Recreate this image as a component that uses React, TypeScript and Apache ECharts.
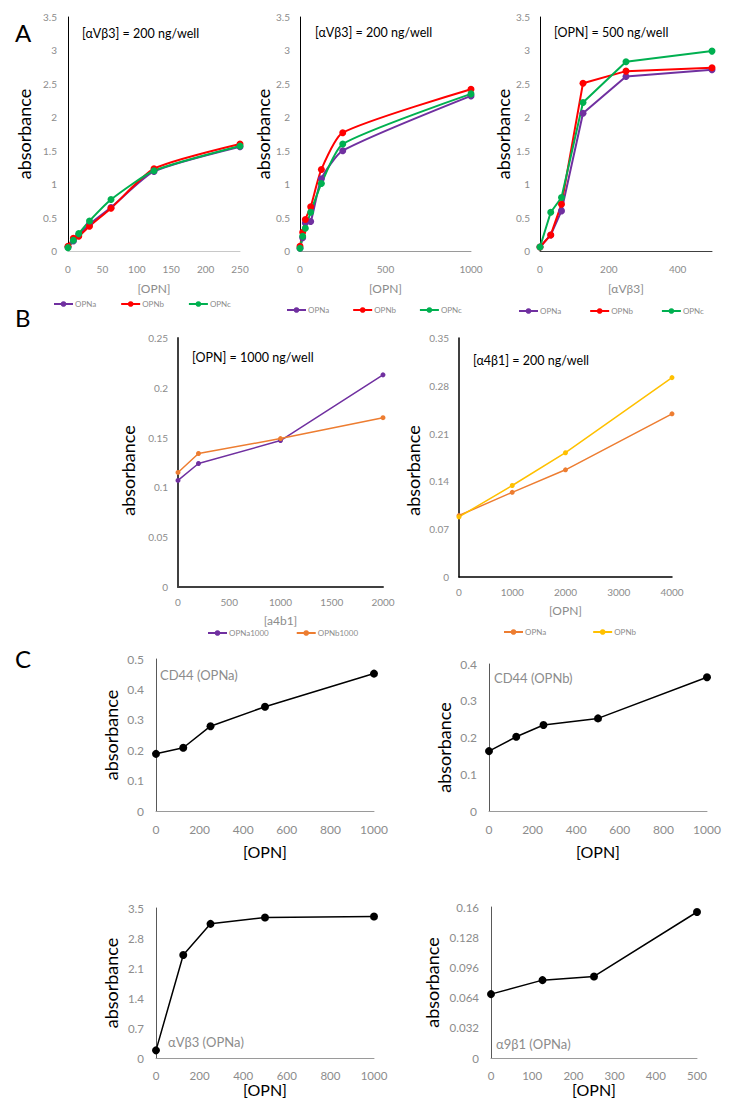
import React, { useEffect, useRef } from "react";
import * as echarts from "echarts";

// ---------- DATA ----------
const A1_X = [0, 7.8, 15.6, 31.25, 62.5, 125, 250];
const A1_OPNa = [0.06, 0.15, 0.24, 0.4, 0.65, 1.19, 1.56];
const A1_OPNb = [0.07, 0.19, 0.22, 0.37, 0.64, 1.23, 1.6];
const A1_OPNc = [0.05, 0.16, 0.26, 0.45, 0.77, 1.2, 1.57];

const A2_X = [0, 15.6, 31.25, 62.5, 125, 250, 1000];
const A2_OPNa = [0.04, 0.2, 0.42, 0.44, 1.08, 1.5, 2.32];
const A2_OPNb = [0.07, 0.28, 0.47, 0.66, 1.22, 1.77, 2.42];
const A2_OPNc = [0.04, 0.22, 0.34, 0.58, 1.01, 1.6, 2.35];

const A3_X = [0, 31.25, 62.5, 125, 250, 500];
const A3_OPNa = [0.06, 0.24, 0.6, 2.06, 2.61, 2.71];
const A3_OPNb = [0.06, 0.24, 0.7, 2.51, 2.69, 2.74];
const A3_OPNc = [0.06, 0.58, 0.8, 2.22, 2.83, 2.99];

const B1_X = [0, 200, 1000, 2000];
const B1_OPNa1000 = [0.107, 0.124, 0.147, 0.213];
const B1_OPNb1000 = [0.115, 0.134, 0.149, 0.17];

const B2_X = [0, 1000, 2000, 4000];
const B2_OPNa = [0.09, 0.124, 0.157, 0.239];
const B2_OPNb = [0.088, 0.134, 0.182, 0.292];

const C_X = [0, 125, 250, 500, 1000];
const C1_CD44_OPNa = [0.188, 0.208, 0.279, 0.343, 0.452];
const C2_CD44_OPNb = [0.163, 0.202, 0.234, 0.252, 0.364];
const C3_AVB3_OPNa = [0.178, 2.405, 3.13, 3.28, 3.3];
const C4_X = [0, 125, 250, 500];
const C4_A9B1_OPNa = [0.0677, 0.0825, 0.0864, 0.1547];

// ---------- STYLE ----------
const FONT = "Lato, 'Noto Sans', sans-serif";
const GRAY = "#8c8c8c";
const PURPLE = "#7030A0";
const RED = "#FF0000";
const GREEN = "#00B050";
const ORANGE = "#ED7D31";
const YELLOW = "#FFC000";

const pairs = (xs: number[], ys: number[]) => xs.map((x, i) => [x, ys[i]]);

type S = { name: string; x: number[]; y: number[]; color: string };
type Panel = {
  id: string;
  grid: [number, number, number, number];
  xMax: number;
  xInt: number;
  yMax: number;
  yInt: number;
  xName: string;
  xNameGap: number;
  xNameSize: number;
  xNameColor: string;
  yNameGap: number;
  yNamePad?: number[];
  labelSize: number;
  xLabelMargin: number;
  yLabelMargin: number;
  yLine: string;
  xLine: string;
  axisW: number;
  smooth: boolean;
  symbolSize: number;
  lineWidth: number;
  hideMaxX?: boolean;
  series: S[];
  legend?: { left: number; top: number; gap: number };
};

const panels: Panel[] = [
  {
    id: "A1", grid: [68, 17, 172, 234], xMax: 250, xInt: 50, yMax: 3.5, yInt: 0.5,
    xName: "[OPN]", xNameGap: 31, xNameSize: 12, xNameColor: GRAY, yNameGap: 35,
    labelSize: 10, xLabelMargin: 13, yLabelMargin: 11, yLine: "#000", xLine: "#c8c8c8", axisW: 1,
    smooth: true, symbolSize: 7, lineWidth: 2,
    series: [
      { name: "OPNa", x: A1_X, y: A1_OPNa, color: PURPLE },
      { name: "OPNb", x: A1_X, y: A1_OPNb, color: RED },
      { name: "OPNc", x: A1_X, y: A1_OPNc, color: GREEN },
    ],
    legend: { left: 53, top: 300, gap: 24 },
  },
  {
    id: "A2", grid: [300, 17, 171, 234], xMax: 1000, xInt: 500, yMax: 3.5, yInt: 0.5,
    xName: "[OPN]", xNameGap: 31, xNameSize: 12, xNameColor: GRAY, yNameGap: 28,
    labelSize: 10, xLabelMargin: 13, yLabelMargin: 10, yLine: "#000", xLine: "#9a9a9a", axisW: 1,
    smooth: true, symbolSize: 7, lineWidth: 2,
    series: [
      { name: "OPNa", x: A2_X, y: A2_OPNa, color: PURPLE },
      { name: "OPNb", x: A2_X, y: A2_OPNb, color: RED },
      { name: "OPNc", x: A2_X, y: A2_OPNc, color: GREEN },
    ],
    legend: { left: 286, top: 306, gap: 23 },
  },
  {
    id: "A3", grid: [540, 17, 172, 234], xMax: 500, xInt: 200, yMax: 3.5, yInt: 0.5,
    xName: "[αVβ3]", xNameGap: 31, xNameSize: 12, xNameColor: GRAY, yNameGap: 28,
    labelSize: 10, xLabelMargin: 13, yLabelMargin: 10, yLine: "#000", xLine: "#404040", axisW: 1,
    smooth: false, symbolSize: 7, lineWidth: 2, hideMaxX: true,
    series: [
      { name: "OPNa", x: A3_X, y: A3_OPNa, color: PURPLE },
      { name: "OPNb", x: A3_X, y: A3_OPNb, color: RED },
      { name: "OPNc", x: A3_X, y: A3_OPNc, color: GREEN },
    ],
    legend: { left: 518, top: 307, gap: 28 },
  },
  {
    id: "B1", grid: [178, 338, 205, 249], xMax: 2000, xInt: 500, yMax: 0.25, yInt: 0.05,
    xName: "[a4b1]", xNameGap: 27, xNameSize: 12, xNameColor: GRAY, yNameGap: 41, yNamePad: [0, 16, 0, 0],
    labelSize: 10, xLabelMargin: 10, yLabelMargin: 10, yLine: "#404040", xLine: "#404040", axisW: 2,
    smooth: false, symbolSize: 5, lineWidth: 1.5,
    series: [
      { name: "OPNa1000", x: B1_X, y: B1_OPNa1000, color: PURPLE },
      { name: "OPNb1000", x: B1_X, y: B1_OPNb1000, color: ORANGE },
    ],
    legend: { left: 207, top: 629, gap: 27 },
  },
  {
    id: "B2", grid: [459, 338, 213, 239], xMax: 4000, xInt: 1000, yMax: 0.35, yInt: 0.07,
    xName: "[OPN]", xNameGap: 27, xNameSize: 12, xNameColor: GRAY, yNameGap: 37, yNamePad: [0, 26, 0, 0],
    labelSize: 10, xLabelMargin: 10, yLabelMargin: 10, yLine: "#000", xLine: "#000", axisW: 1.5,
    smooth: false, symbolSize: 5, lineWidth: 1.5,
    series: [
      { name: "OPNa", x: B2_X, y: B2_OPNa, color: ORANGE },
      { name: "OPNb", x: B2_X, y: B2_OPNb, color: YELLOW },
    ],
    legend: { left: 503, top: 628, gap: 46 },
  },
  {
    id: "C1", grid: [156, 659, 218, 152], xMax: 1000, xInt: 200, yMax: 0.5, yInt: 0.1,
    xName: "[OPN]", xNameGap: 32, xNameSize: 16, xNameColor: "#000", yNameGap: 36,
    labelSize: 12, xLabelMargin: 12, yLabelMargin: 12, yLine: "#595959", xLine: "#9a9a9a", axisW: 1,
    smooth: false, symbolSize: 8, lineWidth: 1.5,
    series: [{ name: "CD44 (OPNa)", x: C_X, y: C1_CD44_OPNa, color: "#000" }],
  },
  {
    id: "C2", grid: [489, 664, 218, 147], xMax: 1000, xInt: 200, yMax: 0.4, yInt: 0.1,
    xName: "[OPN]", xNameGap: 32, xNameSize: 16, xNameColor: "#000", yNameGap: 36, yNamePad: [0, 20, 0, 0],
    labelSize: 12, xLabelMargin: 12, yLabelMargin: 12, yLine: "#595959", xLine: "#9a9a9a", axisW: 1,
    smooth: false, symbolSize: 8, lineWidth: 1.5,
    series: [{ name: "CD44 (OPNb)", x: C_X, y: C2_CD44_OPNb, color: "#000" }],
  },
  {
    id: "C3", grid: [156, 908, 218, 150], xMax: 1000, xInt: 200, yMax: 3.5, yInt: 0.7,
    xName: "[OPN]", xNameGap: 20, xNameSize: 16, xNameColor: "#000", yNameGap: 36,
    labelSize: 11.5, xLabelMargin: 11, yLabelMargin: 12, yLine: "#595959", xLine: "#9a9a9a", axisW: 1,
    smooth: false, symbolSize: 8, lineWidth: 1.5,
    series: [{ name: "αVβ3 (OPNa)", x: C_X, y: C3_AVB3_OPNa, color: "#000" }],
  },
  {
    id: "C4", grid: [491, 907, 206, 151], xMax: 500, xInt: 100, yMax: 0.16, yInt: 0.032,
    xName: "[OPN]", xNameGap: 20, xNameSize: 16, xNameColor: "#000", yNameGap: 50,
    labelSize: 11.5, xLabelMargin: 11, yLabelMargin: 12, yLine: "#595959", xLine: "#9a9a9a", axisW: 1,
    smooth: false, symbolSize: 8, lineWidth: 1.5,
    series: [{ name: "α9β1 (OPNa)", x: C4_X, y: C4_A9B1_OPNa, color: "#000" }],
  },
];

const annotations = [
  { text: "A", x: 15, y: 35, size: 24, color: "#000" },
  { text: "B", x: 15, y: 320, size: 24, color: "#000" },
  { text: "C", x: 15, y: 661, size: 24, color: "#000" },
  { text: "[αVβ3] = 200 ng/well", x: 82, y: 34, size: 12.5, color: "#000" },
  { text: "[αVβ3] = 200 ng/well", x: 315, y: 33, size: 12.5, color: "#000" },
  { text: "[OPN] = 500 ng/well", x: 554, y: 33, size: 12.5, color: "#000" },
  { text: "[OPN] = 1000 ng/well", x: 192, y: 358, size: 12.5, color: "#000" },
  { text: "[α4β1] = 200 ng/well", x: 473, y: 361, size: 12.5, color: "#000" },
  { text: "CD44 (OPNa)", x: 160, y: 676, size: 13, color: GRAY },
  { text: "CD44 (OPNb)", x: 494, y: 679, size: 13, color: GRAY },
  { text: "αVβ3 (OPNa)", x: 168, y: 1043, size: 13, color: GRAY },
  { text: "α9β1 (OPNa)", x: 496, y: 1045, size: 13, color: GRAY },
];

const plain = (v: number) => String(v);

function buildOption() {
  const grid: any[] = [];
  const xAxis: any[] = [];
  const yAxis: any[] = [];
  const series: any[] = [];
  const legend: any[] = [];
  panels.forEach((p, i) => {
    const [left, top, width, height] = p.grid;
    grid.push({ left, top, width, height, containLabel: false });
    xAxis.push({
      type: "value", gridIndex: i, min: 0, max: p.xMax, interval: p.xInt,
      name: p.xName, nameLocation: "middle", nameGap: p.xNameGap,
      nameTextStyle: { fontFamily: FONT, fontSize: p.xNameSize, color: p.xNameColor },
      axisLine: { show: true, onZero: false, lineStyle: { color: p.xLine, width: p.axisW } },
      axisTick: { show: false },
      splitLine: { show: false },
      axisLabel: {
        fontFamily: FONT, fontSize: p.labelSize, color: GRAY, margin: p.xLabelMargin,
        showMaxLabel: p.hideMaxX ? false : true, formatter: plain,
      },
    });
    yAxis.push({
      type: "value", gridIndex: i, min: 0, max: p.yMax, interval: p.yInt,
      name: "absorbance", nameLocation: "middle", nameGap: p.yNameGap, nameRotate: 90,
      nameTextStyle: { fontFamily: FONT, fontSize: 18, color: "#000", padding: p.yNamePad || 0 },
      axisLine: { show: true, lineStyle: { color: p.yLine, width: p.axisW } },
      axisTick: { show: false },
      splitLine: { show: false },
      axisLabel: { fontFamily: FONT, fontSize: p.labelSize, color: GRAY, margin: p.yLabelMargin, formatter: plain },
    });
    const names: string[] = [];
    p.series.forEach((s) => {
      const nm = p.id + "|" + s.name;
      names.push(nm);
      series.push({
        type: "line", name: nm, xAxisIndex: i, yAxisIndex: i,
        data: pairs(s.x, s.y),
        smooth: p.smooth ? 0.2 : false,
        symbol: "circle", symbolSize: p.symbolSize, showSymbol: true,
        lineStyle: { color: s.color, width: p.lineWidth },
        itemStyle: { color: s.color },
        emphasis: { disabled: true },
      });
    });
    if (p.legend) {
      legend.push({
        data: names, left: p.legend.left, top: p.legend.top, itemGap: p.legend.gap,
        itemWidth: 19, itemHeight: 7, padding: 0, selectedMode: false,
        formatter: (n: string) => n.split("|")[1],
        textStyle: { fontFamily: FONT, fontSize: 8, color: GRAY, padding: [0, 0, 0, -3] },
      });
    }
  });

  const graphic = annotations.map((a) => ({
    type: "text", left: a.x, top: a.y - a.size * 0.6,
    style: { text: a.text, fontFamily: FONT, fontSize: a.size, fill: a.color },
  }));

  return { animation: false, backgroundColor: "#fff", grid, xAxis, yAxis, series, legend, graphic };
}

export default function App() {
  const ref = useRef<HTMLDivElement>(null);
  useEffect(() => {
    if (!ref.current) return;
    const chart = echarts.init(ref.current, undefined, { renderer: "svg" });
    chart.setOption(buildOption() as any);
    return () => chart.dispose();
  }, []);
  return (
    <div
      ref={ref}
      style={{ position: "absolute", left: 0, top: 0, width: 732, height: 1113, background: "#fff" }}
    />
  );
}
